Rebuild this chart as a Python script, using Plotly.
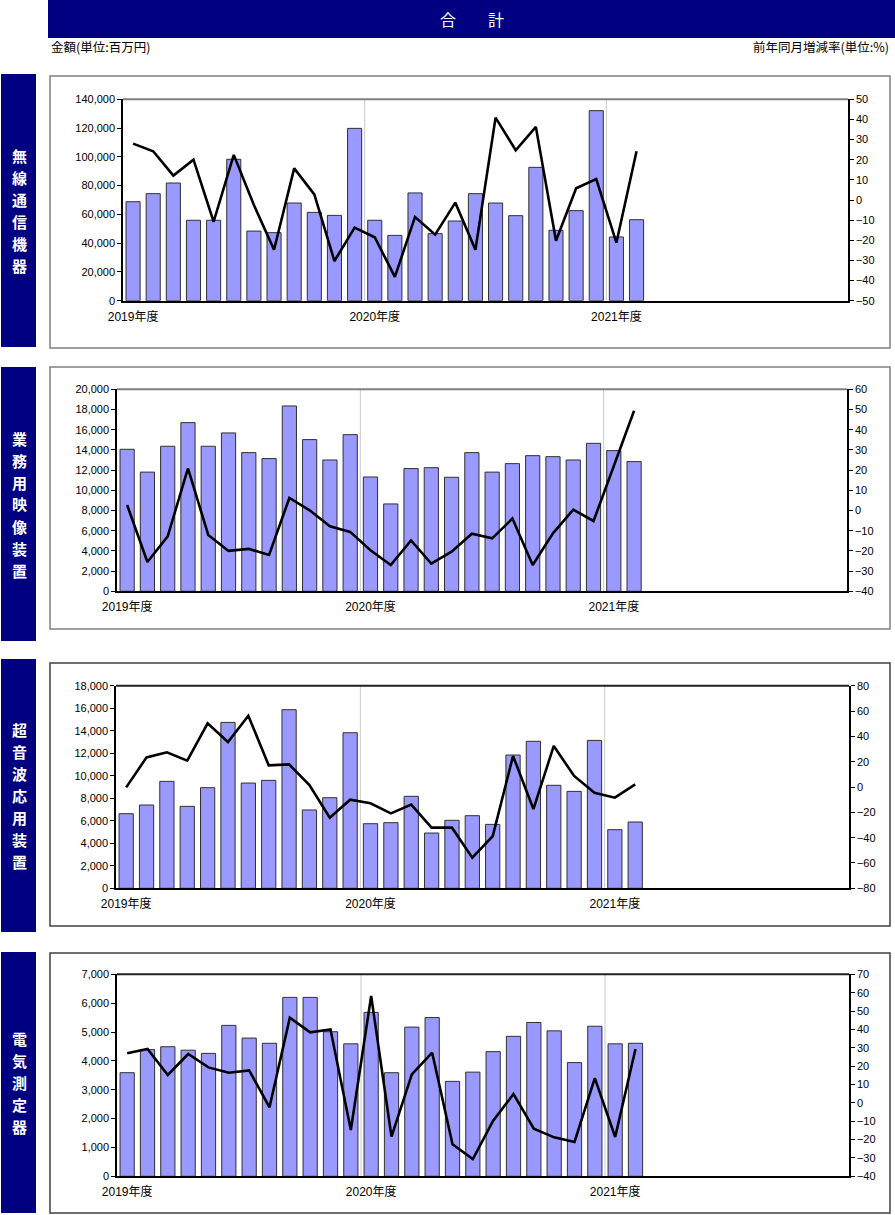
import plotly.graph_objects as go

W, H = 895, 1215

# ---- data (Apr 2019 .. May 2021, 26 months, 36-month axis) ----
n_slots = 36
year_labels = ["2019年度", "2020年度", "2021年度"]
year_label_pos = [0, 12, 24]

wireless_amt = [68800, 74400, 81800, 55900, 55900, 98300, 48400, 47300, 67900, 61400, 59300, 119800,
                55900, 45400, 74900, 46600, 55400, 74400, 67900, 59100, 92700, 48900, 62600, 132100,
                44300, 56300]
wireless_yoy = [28.0, 24.2, 12.1, 20.0, -10.8, 22.4, -2.5, -24.7, 15.7, 2.8, -30.3, -13.7,
                -18.5, -38.2, -8.4, -17.2, -1.3, -24.7, 40.9, 24.7, 36.3, -20.2, 5.8, 10.4,
                -21.2, 24.2]

video_amt = [14060, 11800, 14360, 16700, 14360, 15680, 13730, 13140, 18350, 15020, 13000, 15510,
             11320, 8650, 12150, 12240, 11290, 13730, 11800, 12640, 13430, 13330, 13000, 14650,
             13930, 12840]
video_yoy = [2.7, -25.5, -12.8, 20.9, -12.1, -20.0, -19.0, -22.0, 6.2, 0.1, -7.8, -10.6,
             -19.7, -27.0, -14.8, -26.3, -20.4, -11.5, -13.8, -4.0, -27.0, -11.3, 0.4, -5.2,
             22.0, 49.4]

ultra_amt = [6630, 7400, 9500, 7280, 8940, 14740, 9350, 9590, 15870, 6960, 8050, 13820,
             5740, 5830, 8170, 4910, 6040, 6450, 5680, 11840, 13060, 9150, 8610, 13140,
             5210, 5890]
ultra_yoy = [-0.3, 23.4, 27.4, 20.8, 50.3, 35.5, 56.3, 17.1, 17.9, 1.6, -24.2, -10.0,
             -12.9, -20.8, -13.9, -32.1, -32.1, -55.8, -38.9, 24.5, -17.4, 32.4, 8.7, -4.5,
             -8.4, 2.1]

meas_amt = [3590, 4390, 4490, 4370, 4260, 5230, 4790, 4610, 6200, 6200, 5010, 4590,
            5680, 3590, 5170, 5500, 3290, 3610, 4320, 4850, 5330, 5040, 3940, 5200,
            4590, 4610]
meas_yoy = [27.0, 29.3, 15.2, 26.6, 19.3, 16.4, 17.7, -2.4, 46.4, 38.4, 40.0, -14.8,
            58.2, -18.4, 15.5, 27.3, -22.6, -30.6, -9.7, 4.8, -14.1, -18.8, -21.3, 13.5,
            -18.6, 29.3]

panel_names = ["無線通信機器", "業務用映像装置", "超音波応用装置", "電気測定器"]
amounts = [wireless_amt, video_amt, ultra_amt, meas_amt]
yoys = [wireless_yoy, video_yoy, ultra_yoy, meas_yoy]
left_ranges = [(0, 140000, 20000), (0, 20000, 2000), (0, 18000, 2000), (0, 7000, 1000)]
right_ranges = [(-50, 50, 10), (-40, 60, 10), (-80, 80, 20), (-40, 70, 10)]

# ---- layout geometry (pixels) ----
plot_boxes = [(123, 848, 99.3, 300.7), (117, 847, 389.3, 591.3),
              (116, 849, 685.7, 888.3), (117, 849, 974.3, 1176.3)]
frame_boxes = [(50, 890, 76, 348), (50, 890, 367, 629), (50, 890, 663, 926), (50, 890, 953, 1213)]
label_boxes = [(1, 36, 74, 347), (1, 36, 367, 641), (1, 36, 659, 932), (1, 36, 952, 1213)]
frame_colors = ["#808080", "#808080", "#404040", "#404040"]
top_colors = ["#808080", "#808080", "#202020", "#202020"]
label_step = 22

NAVY = "#000080"
BAR = "#9999FF"
FONT = "Liberation Sans, Noto Sans CJK JP, sans-serif"
JFONT = "Noto Sans CJK JP, sans-serif"

def px(x):
    return x / W

def py(y):
    return 1 - y / H

fig = go.Figure()
layout = dict(
    template="none",
    width=W, height=H, margin=dict(l=0, r=0, t=0, b=0, pad=0, autoexpand=False),
    paper_bgcolor="white", plot_bgcolor="white",
    showlegend=False, font=dict(family=FONT, size=11, color="black"),
    bargap=0.3,
)
shapes = []
annotations = []

for i in range(4):
    k = i + 1
    xid = "x" if k == 1 else f"x{k}"
    yl = 2 * k - 1
    yr = 2 * k
    ylid = "y" if yl == 1 else f"y{yl}"
    yrid = f"y{yr}"
    xkey = "xaxis" if k == 1 else f"xaxis{k}"
    ylkey = "yaxis" if yl == 1 else f"yaxis{yl}"
    yrkey = f"yaxis{yr}"
    x0, x1, y0, y1 = plot_boxes[i]
    amt = amounts[i]
    yoy = yoys[i]
    xs = list(range(len(amt)))

    fig.add_trace(go.Bar(x=xs, y=amt, xaxis=xid, yaxis=ylid, width=0.7,
                         marker=dict(color=BAR, line=dict(color="#303030", width=1))))
    fig.add_trace(go.Scatter(x=xs, y=yoy, xaxis=xid, yaxis=yrid, mode="lines",
                             line=dict(color="black", width=2.6)))

    lo, hi, dt = left_ranges[i]
    rlo, rhi, rdt = right_ranges[i]
    tf = dict(size=11, color="black", family=FONT)
    layout[xkey] = dict(domain=[px(x0), px(x1)], anchor=ylid, range=[-0.5, n_slots - 0.5],
                        tickvals=year_label_pos, ticktext=year_labels, ticks="",
                        showline=True, linecolor="black", linewidth=1.5, showgrid=False,
                        zeroline=False, tickfont=dict(size=12, color="black", family=FONT),
                        ticklabelstandoff=4, fixedrange=True, automargin=False)
    layout[ylkey] = dict(domain=[py(y1), py(y0)], anchor=xid, range=[lo, hi], dtick=dt,
                         tickformat=",", showline=True, linecolor="black", linewidth=1.5,
                         ticks="outside", ticklen=4, tickcolor="black", tickwidth=1,
                         showgrid=False, zeroline=False, tickfont=tf, automargin=False,
                         fixedrange=True)
    layout[yrkey] = dict(domain=[py(y1), py(y0)], anchor=xid, overlaying=ylid, side="right",
                         range=[rlo, rhi], dtick=rdt, showline=True, linecolor="black",
                         linewidth=1.5, ticks="outside", ticklen=4, tickcolor="black",
                         tickwidth=1, showgrid=False, zeroline=False, tickfont=tf,
                         automargin=False, fixedrange=True)

    # fiscal-year separators
    for sep in (11.5, 23.5):
        shapes.append(dict(type="line", xref=xid, yref=f"{ylid} domain", x0=sep, x1=sep,
                           y0=0, y1=1, line=dict(color="#c8c8c8", width=1), layer="below"))
    # top border of plot area
    shapes.append(dict(type="line", xref="paper", yref="paper", x0=px(x0), x1=px(x1),
                       y0=py(y0), y1=py(y0), line=dict(color=top_colors[i], width=2)))
    # chart frame
    fx0, fx1, fy0, fy1 = frame_boxes[i]
    shapes.append(dict(type="rect", xref="paper", yref="paper", x0=px(fx0), x1=px(fx1),
                       y0=py(fy1), y1=py(fy0), line=dict(color=frame_colors[i], width=1.5),
                       layer="below"))
    # navy label box with vertical text (one character per line)
    lx0, lx1, ly0, ly1 = label_boxes[i]
    shapes.append(dict(type="rect", xref="paper", yref="paper", x0=px(lx0), x1=px(lx1),
                       y0=py(ly1), y1=py(ly0), line=dict(width=0), fillcolor=NAVY))
    name = panel_names[i]
    cy = (ly0 + ly1) / 2
    n = len(name)
    for j, ch in enumerate(name):
        yy = cy + (j - (n - 1) / 2) * label_step
        annotations.append(dict(xref="paper", yref="paper", x=px((lx0 + lx1) / 2 + 0.5),
                                y=py(yy), xanchor="center", yanchor="middle",
                                showarrow=False, text="<b>" + ch + "</b>",
                                font=dict(family=JFONT, size=15, color="white")))

# title bar
shapes.append(dict(type="rect", xref="paper", yref="paper", x0=px(48), x1=1,
                   y0=py(38), y1=1, line=dict(width=0), fillcolor=NAVY))
annotations.append(dict(xref="paper", yref="paper", x=px(471.5), y=py(19),
                        xanchor="center", yanchor="middle", showarrow=False,
                        text="合　　計", font=dict(family=JFONT, size=16, color="white")))
annotations.append(dict(xref="paper", yref="paper", x=px(49), y=py(47),
                        xanchor="left", yanchor="middle", showarrow=False,
                        text="金額(単位:百万円)", font=dict(family=JFONT, size=12.5, color="black")))
annotations.append(dict(xref="paper", yref="paper", x=px(891), y=py(47),
                        xanchor="right", yanchor="middle", showarrow=False,
                        text="前年同月増減率(単位:%)", font=dict(family=JFONT, size=12.5, color="black")))

layout["shapes"] = shapes
layout["annotations"] = annotations
fig.update_layout(**layout)
fig.write_html("out.html",
               config=dict(displayModeBar=False, staticPlot=False),
               post_script="document.body.style.margin='0';document.body.style.padding='0';"
                           "document.body.style.overflow='hidden';"
                           "document.documentElement.style.overflow='hidden';")
